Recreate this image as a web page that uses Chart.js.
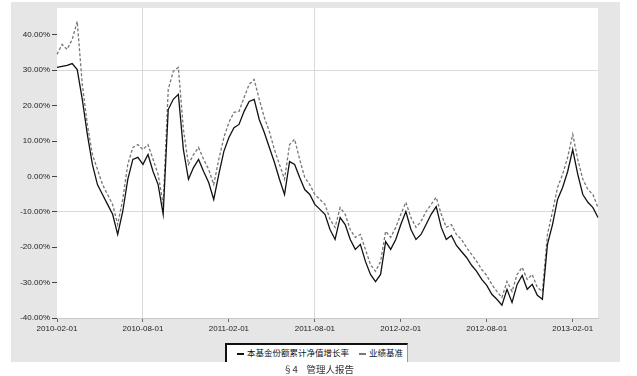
<!DOCTYPE html>
<html><head><meta charset="utf-8">
<script src="https://cdn.jsdelivr.net/npm/chart.js@4/dist/chart.umd.min.js"></script>
<style>
html,body{margin:0;padding:0;background:#fff;width:637px;height:376px;overflow:hidden;font-family:"Noto Sans CJK SC","Noto Sans",sans-serif}
#frame{position:absolute;left:11px;top:2px;width:609px;height:360px;background:#e6e6e6}
#c{position:absolute;left:0;top:0}
#legend{position:absolute;left:225px;top:343px;width:183px;height:19px;background:#fff;border-top:2px solid #111;border-left:2px solid #111;border-right:1px solid #999;box-sizing:border-box;font-size:8.5px;color:#111;line-height:14px;white-space:nowrap;padding-left:10px}
#legend .it{display:inline-block;margin-right:10px}
#legend .ln{display:inline-block;width:7px;height:0;vertical-align:middle;margin-right:3px}
#foot{position:absolute;top:362px;left:0;width:637px;text-align:center;font-size:9.5px;color:#333;line-height:14px}
</style></head>
<body>
<div id="frame"></div>
<canvas id="c" width="637" height="376"></canvas>
<div id="legend"><span class="it"><span class="ln" style="border-top:2px solid #111"></span>本基金份额累计净值增长率</span><span class="it"><span class="ln" style="border-top:2px dashed #777"></span>业绩基准</span></div>
<div id="foot">§4&nbsp;&nbsp;&nbsp;&nbsp;管理人报告</div>
<script>
const tickLabels = ["2010-02-01","2010-08-01","2011-02-01","2011-08-01","2012-02-01","2012-08-01","2013-02-01"];
const yTicks = [-40,-30,-20,-10,0,10,20,30,40];
const fundValues = [30.8,31.1,31.4,31.9,30.2,21.8,11.9,3.4,-2.3,-5.1,-7.9,-10.7,-16.4,-9.9,-0.8,4.8,5.4,3.4,6.2,1.4,-2.3,-10.7,18.9,21.8,23.2,7.6,-0.8,2.5,4.8,1.4,-1.7,-6.5,0.6,7.1,11.0,13.8,14.7,18.4,21.2,21.8,16.1,12.4,8.2,4.0,-0.8,-5.1,4.2,3.4,-0.3,-3.7,-5.1,-7.9,-9.3,-10.7,-15.0,-17.8,-11.6,-13.6,-17.8,-20.6,-19.2,-24.0,-27.7,-29.7,-27.7,-18.4,-20.6,-17.8,-13.6,-9.9,-15.0,-17.8,-16.4,-13.6,-10.7,-8.5,-14.4,-17.8,-16.7,-19.5,-21.2,-22.9,-25.1,-26.8,-29.1,-30.8,-33.3,-34.7,-36.4,-31.9,-35.6,-30.5,-28.0,-31.9,-30.5,-33.6,-34.7,-19.2,-13.6,-6.5,-3.1,1.4,7.6,0.6,-5.1,-7.3,-8.8,-11.6];
const benchValues = [34.5,37.3,35.9,38.7,43.8,26.0,14.7,6.2,2.0,-2.3,-5.1,-7.9,-13.6,-6.5,3.4,8.2,9.0,7.6,9.0,4.8,0.6,-7.9,24.6,29.7,30.8,13.3,3.4,6.2,8.2,4.8,2.0,-2.3,4.8,11.0,15.3,18.1,18.4,22.3,26.0,27.4,21.8,16.7,12.7,7.6,3.4,-0.8,9.0,10.5,4.8,-0.3,-2.3,-5.1,-6.5,-7.9,-12.1,-14.4,-8.8,-10.7,-15.0,-17.2,-16.4,-20.6,-24.9,-26.8,-24.0,-15.5,-17.2,-14.4,-10.7,-7.3,-11.6,-14.4,-12.7,-9.9,-7.9,-5.9,-10.7,-14.4,-13.6,-16.4,-17.8,-20.1,-22.0,-24.0,-26.3,-28.0,-30.5,-32.5,-34.2,-29.7,-32.5,-27.7,-25.7,-29.1,-27.7,-31.4,-32.5,-16.4,-9.9,-3.1,0.6,5.4,11.9,4.8,-0.8,-3.7,-5.1,-8.8];
const seriesNames = ["本基金份额累计净值增长率","业绩基准"];
const tickEvery = 17;
const categories = fundValues.map((_, i) => i);

const plotBg = {
  id: 'plotBg',
  beforeDraw(chart) {
    const {ctx, chartArea: a} = chart;
    ctx.save();
    ctx.fillStyle = '#ffffff';
    ctx.fillRect(a.left, a.top, a.right - a.left, a.bottom - a.top);
    ctx.restore();
  }
};

new Chart(document.getElementById('c'), {
  type: 'line',
  data: {
    labels: categories,
    datasets: [
      {label: seriesNames[0], data: fundValues, borderColor: '#111', borderWidth: 1.3, pointRadius: 0, tension: 0},
      {label: seriesNames[1], data: benchValues, borderColor: '#777', borderWidth: 1.3, borderDash: [3,2], pointRadius: 0, tension: 0}
    ]
  },
  options: {
    responsive: false,
    animation: false,
    layout: {padding: {left: 0, top: 8, right: 39, bottom: 38}},
    plugins: {legend: {display: false}, tooltip: {enabled: false}},
    scales: {
      x: {
        type: 'category',
        offset: false,
        afterBuildTicks: s => { s.ticks = s.ticks.filter(t => t.value % tickEvery === 0); },
        afterFit: s => { s.height = 20; },
        grid: {
          color: c => (c.tick && (c.tick.value === 17 || c.tick.value === 51)) ? '#dadada' : 'rgba(0,0,0,0)',
          tickColor: '#666', tickLength: 4, drawOnChartArea: true
        },
        border: {color: '#c8c8c8'},
        ticks: {
          autoSkip: false, maxRotation: 0, padding: 2, color: '#222',
          font: {size: 8, family: '"Liberation Sans", Arial, sans-serif'},
          callback: (v) => tickLabels[v / tickEvery]
        }
      },
      y: {
        min: -40, max: 47.6,
        afterBuildTicks: s => { s.ticks = yTicks.map(v => ({value: v})); },
        afterFit: s => { s.width = 57; },
        grid: {
          color: c => (c.tick && (c.tick.value === 30 || c.tick.value === -10)) ? '#dadada' : 'rgba(0,0,0,0)',
          tickColor: '#444', tickLength: 5, drawOnChartArea: true
        },
        border: {display: false},
        ticks: {
          padding: 2, color: '#222',
          font: {size: 8, family: '"Liberation Sans", Arial, sans-serif'},
          callback: v => v.toFixed(2) + '%'
        }
      }
    }
  },
  plugins: [plotBg]
});
</script>
</body></html>
